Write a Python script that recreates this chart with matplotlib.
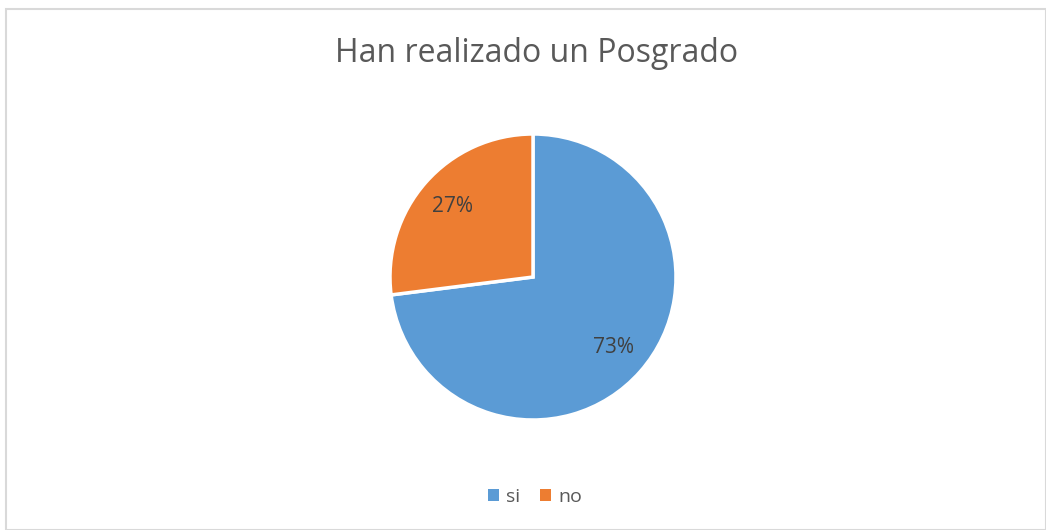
import matplotlib.pyplot as plt
from matplotlib.patches import Rectangle, Patch

# datos
categorias = ['si', 'no']
valores = [73, 27]
colores = ['#5B9BD5', '#ED7D31']
titulo = 'Han realizado un Posgrado'

plt.rcParams['font.family'] = ['Open Sans', 'DejaVu Sans']
texto = '#404040'

fig = plt.figure(figsize=(10.46, 5.30), dpi=100)

# marco gris del gráfico
fig.patches.append(Rectangle((6 / 1046, 0), 1 - 6 / 1046, 1 - 9 / 530, transform=fig.transFigure,
                             fill=False, edgecolor='#D9D9D9', linewidth=1.5))

ax = fig.add_axes([(533 - 143) / 1046, (530 - 277 - 143) / 530, 286 / 1046, 286 / 530])
wedges, _, autotexts = ax.pie(valores, colors=colores, startangle=90, counterclock=False,
                              autopct='%1.0f%%', pctdistance=0.75,
                              wedgeprops=dict(edgecolor='white', linewidth=2.5),
                              textprops=dict(color=texto, fontsize=15))
ax.set_xlim(-1, 1)
ax.set_ylim(-1, 1)
ax.set_aspect('equal')

fig.text(537 / 1046, 1 - 53 / 530, titulo, ha='center', va='center', fontsize=23, color='#595959')

handles = [Patch(facecolor=c, label=l) for c, l in zip(colores, categorias)]
fig.legend(handles=handles, loc='center', bbox_to_anchor=(535 / 1046, 1 - 497 / 530), ncol=2,
           frameon=False, fontsize=14, handlelength=0.55, handleheight=0.55, handletextpad=0.4,
           columnspacing=1.0, labelcolor='#595959')

fig.savefig('out.png', dpi=100)
